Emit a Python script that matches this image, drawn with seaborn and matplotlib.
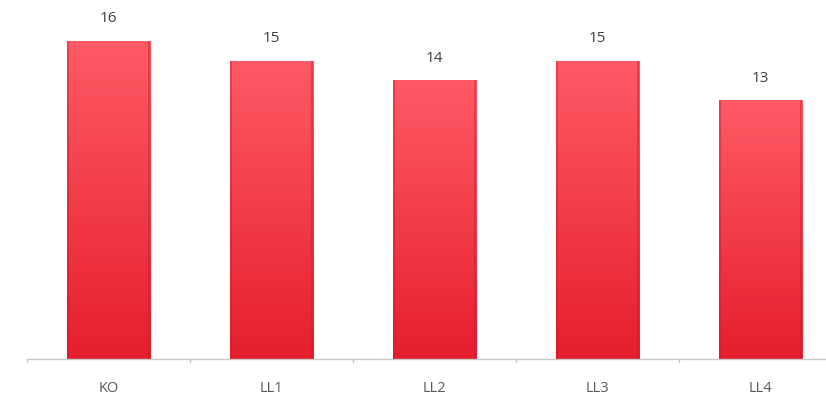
import numpy as np
import pandas as pd
import matplotlib
matplotlib.use("Agg")
import matplotlib.pyplot as plt
import seaborn as sns
from matplotlib.colors import LinearSegmentedColormap

categories = ["KO", "LL1", "LL2", "LL3", "LL4"]
values = [16, 15, 14, 15, 13]

df = pd.DataFrame({"cat": categories, "val": values})

sns.set_style("white")
plt.rcParams['font.family'] = ['Open Sans', 'DejaVu Sans']

fig = plt.figure(figsize=(8.26, 3.96), dpi=100)
ax = fig.add_axes([27 / 826, 37 / 396, 815 / 826, 359 / 396])

sns.barplot(data=df, x="cat", y="val", ax=ax, color="#e8283a", width=0.51,
            saturation=1, edgecolor="none")

ax.set_ylim(0, 359 / 19.9)
ax.set_xlim(-0.5, len(categories) - 0.5)

cmap = LinearSegmentedColormap.from_list("g", ["#e61e2e", "#ff5a66"])
grad = np.linspace(0, 1, 256).reshape(-1, 1)
for p in ax.patches:
    x0, y0 = p.get_x(), p.get_y()
    w, h = p.get_width(), p.get_height()
    im = ax.imshow(grad, cmap=cmap, origin="lower", aspect="auto",
                   extent=[x0, x0 + w, 0, h], zorder=p.get_zorder() + 0.1)
    im.set_clip_path(p)
    ax.plot([x0 + w * 0.01, x0 + w * 0.01], [0, h], color="#c81a28", lw=1.2,
            alpha=0.5, zorder=5, solid_capstyle="butt")
    ax.plot([x0 + w * 0.99, x0 + w * 0.99], [0, h], color="#c81a28", lw=1.2,
            alpha=0.5, zorder=5, solid_capstyle="butt")
    ax.text(x0 + w / 2, h + 22 / 19.9, f"{int(round(h))}", ha="center",
            va="center", fontsize=11, color="#404040")

ax.set_xlabel("")
ax.set_ylabel("")
ax.set_yticks([])
for s in ["left", "right", "top"]:
    ax.spines[s].set_visible(False)
ax.spines["bottom"].set_color("#c8c8c8")
ax.spines["bottom"].set_linewidth(1.0)

ax.set_xticks(range(len(categories)))
ax.set_xticklabels(categories, fontsize=10.5, color="#595959")
ax.tick_params(axis="x", length=0, pad=16)
for b in np.arange(-0.5, len(categories), 1.0):
    ax.plot([b, b], [0, -3 / 19.9], color="#c8c8c8", lw=1.0, clip_on=False)

fig.savefig("out.png", dpi=100)
